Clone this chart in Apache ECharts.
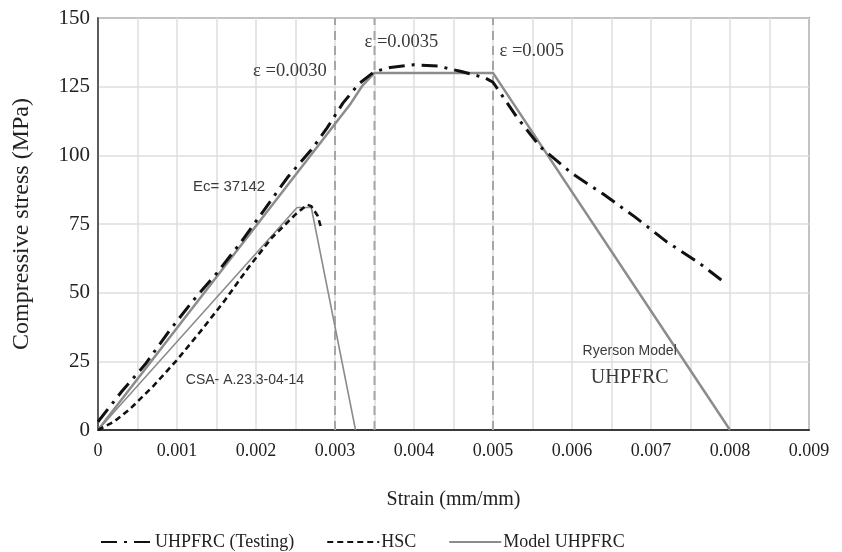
<!DOCTYPE html>
<html>
<head>
<meta charset="utf-8">
<script src="https://cdn.jsdelivr.net/npm/echarts@6/dist/echarts.min.js"></script>
<style>
  html, body { margin: 0; padding: 0; background: #fff; }
  #chart { width: 842px; height: 552px; }
</style>
</head>
<body>
<div id="chart"></div>
<script>
// UHPFRC test curve (dash-dot)
const testStrain = [0, 0.0003, 0.0006, 0.0009, 0.0012, 0.0015, 0.0018, 0.0021, 0.0024, 0.0027, 0.0029,
  0.0031, 0.0033, 0.0035, 0.0037, 0.0040, 0.0043, 0.0046, 0.0049, 0.0050, 0.0053, 0.0056, 0.0060,
  0.0064, 0.0068, 0.0072, 0.0076, 0.0079]
const testStress = [3, 14, 24, 36, 47, 57, 68, 80, 92, 102, 110,
  119, 126, 130.5, 132, 133, 132.5, 130.5, 128.2, 126.6, 114, 103, 93.4,
  85.8, 77.5, 68.5, 61, 54.4]

// HSC test curve (dashed)
const hscStrain = [0, 0.0002, 0.0004, 0.0007, 0.0010, 0.0013, 0.0016, 0.0019, 0.0022, 0.0025, 0.00265, 0.0027, 0.00278, 0.00283]
const hscStress = [0, 3, 7.5, 16, 25.5, 36, 47, 59, 70, 78.5, 82, 81.5, 78, 73]

// Ryerson model for UHPFRC
const modelStrain = [0, 0.0032, 0.00335, 0.0035, 0.0050, 0.0080]
const modelStress = [0, 118.9, 125.5, 130, 130, 0]

// CSA A23.3-04-14 model for HSC
const csaStrain = [0, 0.00252, 0.0027, 0.00326]
const csaStress = [0, 81, 81, 0]

// vertical reference strains
const refStrains = [0.0030, 0.0035, 0.0050]

const zip = (xs, ys) => xs.map((x, i) => [x, ys[i]])

const serif = '"Liberation Serif", "Times New Roman", serif'
const sans = '"Liberation Sans", Arial, sans-serif'

const chart = echarts.init(document.getElementById('chart'))

function note(text, x, y, font, size) {
  return {
    coord: [x, y],
    symbol: 'circle',
    symbolSize: 0,
    label: {
      show: true,
      position: 'inside',
      formatter: text,
      fontFamily: font,
      fontSize: size,
      color: '#3a3a3a',
    },
  }
}

const refSeries = refStrains.map(x => ({
  name: 'ref ' + x,
  type: 'line',
  symbol: 'none',
  silent: true,
  data: [[x, 0], [x, 150]],
  lineStyle: { color: '#a6a6a6', type: [9, 6], width: 2 },
  z: 2,
}))

chart.setOption({
  animation: false,
  grid: {
    left: 98,
    right: 33,
    top: 18,
    bottom: 122,
    show: true,
    borderColor: '#4a4a4a',
    borderWidth: 1.5,
  },
  legend: {
    top: 528,
    left: 95,
    itemWidth: 52,
    itemHeight: 12,
    itemGap: 32,
    itemStyle: { opacity: 0 },
    data: ['UHPFRC (Testing)', 'HSC', 'Model UHPFRC'],
    textStyle: { fontFamily: serif, fontSize: 18, color: '#222', padding: [0, 0, 0, -3] },
  },
  xAxis: {
    type: 'value',
    min: 0,
    max: 0.009,
    interval: 0.0005,
    name: 'Strain (mm/mm)',
    nameLocation: 'middle',
    nameGap: 60,
    nameTextStyle: { fontFamily: serif, fontSize: 20, color: '#222' },
    axisLine: { lineStyle: { color: '#3a3a3a', width: 2 } },
    axisTick: { show: false },
    axisLabel: {
      margin: 12,
      fontFamily: serif,
      fontSize: 18,
      color: '#222',
      formatter: (v) => {
        const k = Math.round(v / 0.0005)
        if (k % 2) return ''
        return k === 0 ? '0' : (k / 2000).toFixed(3)
      },
    },
    splitLine: { lineStyle: { color: '#dedede', width: 1.5 } },
  },
  yAxis: {
    type: 'value',
    min: 0,
    max: 150,
    interval: 25,
    name: 'Compressive stress (MPa)',
    nameLocation: 'middle',
    nameGap: 64,
    nameTextStyle: { fontFamily: serif, fontSize: 24, color: '#222' },
    axisLine: { show: true, lineStyle: { color: '#3a3a3a', width: 1.5 } },
    axisTick: { show: false },
    axisLabel: { margin: 8, fontFamily: serif, fontSize: 21, color: '#222' },
    splitLine: { lineStyle: { color: '#dedede', width: 1.5 } },
  },
  series: [
    ...refSeries,
    {
      name: 'Model UHPFRC',
      type: 'line',
      symbol: 'none',
      data: zip(modelStrain, modelStress),
      lineStyle: { color: '#8c8c8c', width: 2.5 },
      itemStyle: { color: '#8c8c8c' },
      z: 3,
      markPoint: {
        data: [
          note('ε =0.0030', 0.00243, 130.6, serif, 18.5),
          note('ε =0.0035', 0.00384, 141.3, serif, 18.5),
          note('ε =0.005', 0.00549, 138, serif, 18.5),
          note('Ec= 37142', 0.00166, 88.7, sans, 15),
          note('CSA- A.23.3-04-14', 0.00186, 18.3, sans, 14),
          note('Ryerson Model', 0.00673, 28.6, sans, 14),
          note('UHPFRC', 0.00673, 19.2, serif, 20),
        ],
      },
    },
    {
      name: 'CSA',
      type: 'line',
      symbol: 'none',
      data: zip(csaStrain, csaStress),
      lineStyle: { color: '#8c8c8c', width: 1.6 },
      z: 3,
    },
    {
      name: 'HSC',
      type: 'line',
      symbol: 'none',
      data: zip(hscStrain, hscStress),
      lineStyle: { color: '#111', width: 2.6, type: [6, 4] },
      itemStyle: { color: '#111' },
      z: 4,
    },
    {
      name: 'UHPFRC (Testing)',
      type: 'line',
      symbol: 'none',
      data: zip(testStrain, testStress),
      lineStyle: { color: '#111', width: 3, type: [16, 7, 3, 7] },
      itemStyle: { color: '#111' },
      z: 5,
    },
  ],
})

window.addEventListener('resize', () => chart.resize())
</script>
</body>
</html>
